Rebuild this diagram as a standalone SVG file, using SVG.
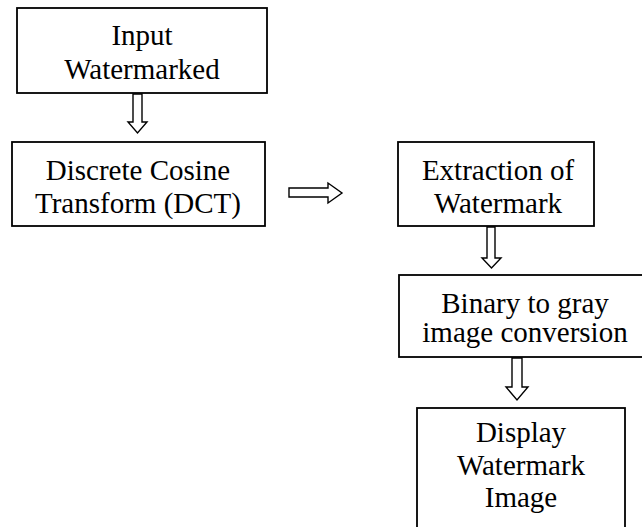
<svg xmlns="http://www.w3.org/2000/svg" width="642" height="527" viewBox="0 0 642 527">
<style>
.box{fill:#fff;stroke:#000;stroke-width:1.8}
.t{font-family:'Liberation Serif','Times New Roman','DejaVu Serif',serif;font-size:29px;fill:#000;text-anchor:middle}
.arr{fill:#fff;stroke:#000;stroke-width:1.4;stroke-linejoin:miter}
</style>
<rect width="642" height="527" fill="#fff"/>
<g id="input">
<rect class="box" x="17" y="8" width="250" height="85"/>
<text class="t" x="142" y="45" font-family="Liberation Serif, serif">Input</text>
<text class="t" x="142" y="79" font-family="Liberation Serif, serif">Watermarked</text>
</g>
<g id="dct">
<rect class="box" x="12" y="142" width="253" height="84"/>
<text class="t" x="138" y="180">Discrete Cosine</text>
<text class="t" x="138" y="213">Transform (DCT)</text>
</g>
<g id="extraction">
<rect class="box" x="398" y="142" width="196" height="84"/>
<text class="t" x="498" y="180">Extraction of</text>
<text class="t" x="498" y="213">Watermark</text>
</g>
<g id="binary">
<rect class="box" x="399" y="275" width="260" height="82"/>
<text class="t" x="525" y="313">Binary to gray</text>
<text class="t" x="525" y="342">image conversion</text>
</g>
<g id="display">
<rect class="box" x="417" y="408" width="208" height="140"/>
<text class="t" x="521" y="442">Display</text>
<text class="t" x="521" y="475">Watermark</text>
<text class="t" x="521" y="507">Image</text>
</g>
<g id="connectors">
<polygon class="arr" points="133,94 142,94 142,122 147,122 137.5,133 128,122 133,122"/>
<polygon class="arr" points="289,188 328,188 328,183 342,193 328,203 328,197 289,197"/>
<polygon class="arr" points="487,227 495,227 495,258 501,258 491.5,268 482,258 487,258"/>
<polygon class="arr" points="512,358 522,358 522,387 528,387 517,400 506,387 512,387"/>
</g>
</svg>
